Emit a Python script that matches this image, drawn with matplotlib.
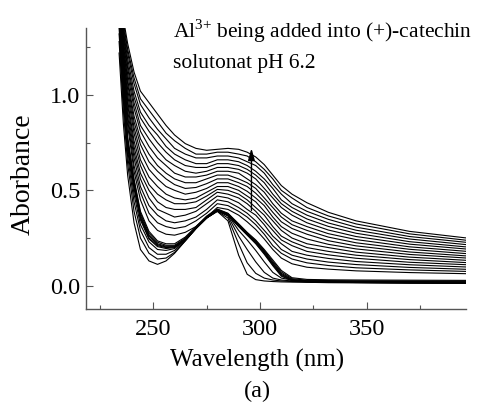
import numpy as np
import matplotlib
matplotlib.use('Agg')
import matplotlib.pyplot as plt

plt.rcParams['font.family'] = ['Liberation Serif', 'DejaVu Serif']
plt.rcParams['mathtext.fontset'] = 'custom'
plt.rcParams['mathtext.rm'] = 'Liberation Serif'

wavelength = [234, 236, 238, 241, 244, 248, 252, 256, 260, 265, 270, 275, 280,
              285, 290, 294, 298, 302, 306, 310, 315, 322, 332, 345, 370, 397]

# (+)-catechin alone
catechin = [1.22, 0.85, 0.58, 0.33, 0.19, 0.13, 0.112, 0.13, 0.17, 0.235, 0.30, 0.355, 0.39,
            0.34, 0.16, 0.06, 0.032, 0.025, 0.022, 0.02, 0.019, 0.018, 0.016, 0.015, 0.013, 0.012]

# first Al3+ additions (one row per wavelength, one column per spectrum)
low_al = [
    [1.28, 1.32, 1.35], [0.92, 0.97, 1.00], [0.64, 0.68, 0.71], [0.39, 0.44, 0.48],
    [0.25, 0.29, 0.32], [0.17, 0.20, 0.23], [0.14, 0.165, 0.19], [0.145, 0.165, 0.185],
    [0.175, 0.185, 0.195], [0.235, 0.237, 0.24], [0.30, 0.30, 0.30], [0.355, 0.355, 0.355],
    [0.39, 0.392, 0.394], [0.355, 0.365, 0.37], [0.22, 0.26, 0.29], [0.12, 0.19, 0.24],
    [0.065, 0.125, 0.185], [0.04, 0.07, 0.125], [0.03, 0.04, 0.07], [0.025, 0.03, 0.04],
    [0.022, 0.025, 0.03], [0.02, 0.022, 0.025], [0.018, 0.02, 0.022], [0.017, 0.019, 0.021],
    [0.015, 0.017, 0.019], [0.014, 0.016, 0.018],
]

# the dense bundle of spectra
mid_al = [
    [1.38, 1.39, 1.40, 1.41, 1.42, 1.43],
    [1.03, 1.04, 1.05, 1.06, 1.07, 1.08],
    [0.73, 0.74, 0.75, 0.76, 0.77, 0.78],
    [0.51, 0.52, 0.53, 0.54, 0.55, 0.56],
    [0.345, 0.355, 0.36, 0.37, 0.38, 0.39],
    [0.245, 0.25, 0.26, 0.265, 0.275, 0.285],
    [0.205, 0.21, 0.215, 0.22, 0.228, 0.235],
    [0.195, 0.20, 0.203, 0.207, 0.212, 0.22],
    [0.20, 0.203, 0.205, 0.208, 0.212, 0.22],
    [0.24, 0.242, 0.244, 0.246, 0.25, 0.255],
    [0.30, 0.30, 0.302, 0.304, 0.306, 0.31],
    [0.355, 0.357, 0.358, 0.36, 0.362, 0.365],
    [0.395, 0.396, 0.397, 0.398, 0.40, 0.402],
    [0.37, 0.372, 0.374, 0.376, 0.378, 0.38],
    [0.31, 0.312, 0.315, 0.318, 0.32, 0.325],
    [0.265, 0.268, 0.27, 0.273, 0.276, 0.28],
    [0.22, 0.224, 0.228, 0.232, 0.236, 0.24],
    [0.165, 0.17, 0.175, 0.18, 0.185, 0.19],
    [0.105, 0.11, 0.115, 0.12, 0.127, 0.135],
    [0.05, 0.055, 0.06, 0.065, 0.072, 0.08],
    [0.026, 0.028, 0.03, 0.033, 0.037, 0.042],
    [0.02, 0.022, 0.024, 0.026, 0.029, 0.033],
    [0.018, 0.02, 0.022, 0.024, 0.027, 0.031],
    [0.017, 0.019, 0.021, 0.023, 0.026, 0.03],
    [0.015, 0.017, 0.019, 0.022, 0.025, 0.029],
    [0.014, 0.016, 0.018, 0.021, 0.024, 0.028],
]

# later additions, absorbance rising step by step
high_al = [
    [1.45, 1.46, 1.47, 1.48, 1.49, 1.50, 1.51, 1.52, 1.53, 1.54, 1.55, 1.56, 1.57, 1.58, 1.59, 1.60, 1.62],
    [1.10, 1.12, 1.14, 1.16, 1.18, 1.19, 1.21, 1.23, 1.25, 1.27, 1.29, 1.31, 1.33, 1.34, 1.36, 1.38, 1.40],
    [0.84, 0.87, 0.89, 0.92, 0.95, 0.97, 1.00, 1.03, 1.06, 1.08, 1.11, 1.14, 1.16, 1.19, 1.22, 1.24, 1.27],
    [0.60, 0.63, 0.67, 0.70, 0.73, 0.76, 0.80, 0.83, 0.86, 0.89, 0.93, 0.96, 0.99, 1.02, 1.06, 1.09, 1.12],
    [0.45, 0.49, 0.52, 0.56, 0.59, 0.63, 0.66, 0.70, 0.74, 0.77, 0.81, 0.84, 0.88, 0.91, 0.95, 0.98, 1.02],
    [0.34, 0.38, 0.42, 0.46, 0.50, 0.53, 0.57, 0.61, 0.65, 0.69, 0.73, 0.77, 0.81, 0.84, 0.88, 0.92, 0.96],
    [0.29, 0.33, 0.37, 0.40, 0.44, 0.48, 0.52, 0.56, 0.60, 0.63, 0.67, 0.71, 0.75, 0.79, 0.82, 0.86, 0.90],
    [0.27, 0.31, 0.34, 0.38, 0.41, 0.45, 0.48, 0.52, 0.56, 0.59, 0.63, 0.66, 0.70, 0.73, 0.77, 0.80, 0.84],
    [0.265, 0.30, 0.33, 0.36, 0.40, 0.43, 0.46, 0.50, 0.53, 0.56, 0.59, 0.63, 0.66, 0.69, 0.72, 0.76, 0.79],
    [0.28, 0.31, 0.34, 0.37, 0.40, 0.43, 0.45, 0.48, 0.51, 0.54, 0.57, 0.60, 0.63, 0.66, 0.69, 0.72, 0.745],
    [0.31, 0.34, 0.36, 0.39, 0.41, 0.44, 0.46, 0.49, 0.515, 0.54, 0.57, 0.59, 0.62, 0.64, 0.67, 0.69, 0.72],
    [0.36, 0.38, 0.40, 0.43, 0.45, 0.47, 0.49, 0.51, 0.535, 0.56, 0.58, 0.60, 0.62, 0.64, 0.67, 0.69, 0.71],
    [0.41, 0.43, 0.45, 0.47, 0.49, 0.505, 0.52, 0.54, 0.56, 0.58, 0.60, 0.62, 0.64, 0.66, 0.68, 0.70, 0.715],
    [0.40, 0.42, 0.44, 0.46, 0.48, 0.50, 0.52, 0.54, 0.56, 0.58, 0.60, 0.62, 0.64, 0.66, 0.68, 0.70, 0.72],
    [0.37, 0.39, 0.41, 0.435, 0.46, 0.48, 0.50, 0.52, 0.54, 0.56, 0.59, 0.61, 0.63, 0.65, 0.67, 0.69, 0.715],
    [0.335, 0.36, 0.38, 0.40, 0.43, 0.45, 0.47, 0.495, 0.52, 0.54, 0.56, 0.59, 0.61, 0.63, 0.65, 0.68, 0.70],
    [0.295, 0.32, 0.34, 0.37, 0.39, 0.41, 0.44, 0.46, 0.485, 0.51, 0.53, 0.56, 0.58, 0.60, 0.63, 0.65, 0.675],
    [0.245, 0.27, 0.29, 0.32, 0.34, 0.37, 0.39, 0.42, 0.44, 0.46, 0.49, 0.51, 0.54, 0.56, 0.59, 0.61, 0.635],
    [0.19, 0.21, 0.24, 0.26, 0.29, 0.31, 0.34, 0.36, 0.385, 0.41, 0.43, 0.46, 0.48, 0.51, 0.53, 0.56, 0.58],
    [0.145, 0.17, 0.19, 0.22, 0.24, 0.26, 0.29, 0.31, 0.335, 0.36, 0.38, 0.41, 0.43, 0.45, 0.48, 0.50, 0.525],
    [0.115, 0.14, 0.16, 0.18, 0.21, 0.23, 0.25, 0.275, 0.30, 0.32, 0.34, 0.37, 0.39, 0.41, 0.43, 0.46, 0.48],
    [0.097, 0.12, 0.14, 0.16, 0.18, 0.20, 0.22, 0.245, 0.27, 0.29, 0.31, 0.33, 0.35, 0.37, 0.39, 0.41, 0.435],
    [0.087, 0.106, 0.124, 0.143, 0.162, 0.18, 0.20, 0.217, 0.236, 0.255, 0.273, 0.292, 0.311, 0.329, 0.348, 0.366, 0.385],
    [0.078, 0.094, 0.111, 0.127, 0.144, 0.16, 0.176, 0.193, 0.209, 0.225, 0.242, 0.258, 0.275, 0.291, 0.307, 0.324, 0.34],
    [0.069, 0.083, 0.096, 0.11, 0.123, 0.137, 0.15, 0.164, 0.177, 0.191, 0.204, 0.218, 0.231, 0.245, 0.258, 0.272, 0.285],
    [0.063, 0.075, 0.086, 0.098, 0.11, 0.121, 0.133, 0.145, 0.156, 0.168, 0.18, 0.192, 0.203, 0.215, 0.227, 0.238, 0.25],
]

fig = plt.figure(figsize=(4.82, 4.03), dpi=100)
ax = fig.add_axes([86 / 482, 94 / 403, 380 / 482, 281 / 403])

ax.plot(wavelength, catechin, color='black', lw=0.8)
ax.plot(wavelength, np.array(low_al), color='black', lw=0.8)
ax.plot(wavelength, np.array(mid_al), color='black', lw=0.8)
ax.plot(wavelength, np.array(high_al), color='black', lw=0.8)

# arrow showing the direction of change
ax.annotate('', xy=(296, 0.735), xytext=(296, 0.38),
            arrowprops=dict(arrowstyle='-|>,head_width=0.2,head_length=0.7',
                            color='black', lw=1.0, mutation_scale=10))

ax.set_xlim(218.5, 396.5)
ax.set_ylim(-0.122, 1.351)
ax.set_xticks([250, 300, 350])
ax.set_xticks([225, 275, 325, 375], minor=True)
ax.set_yticks([0.0, 0.5, 1.0])
ax.set_yticklabels(['0.0', '0.5', '1.0'])
ax.set_yticks([0.25, 0.75, 1.25], minor=True)

for s in ['top', 'right']:
    ax.spines[s].set_visible(False)
for s in ['left', 'bottom']:
    ax.spines[s].set_color('#555555')
    ax.spines[s].set_linewidth(1.0)

ax.tick_params(which='both', direction='in', colors='#555555', labelcolor='black',
               labelsize=17.5)
ax.tick_params(which='major', length=5, width=0.8)
ax.tick_params(which='minor', length=3, width=0.8)
ax.tick_params(axis='x', pad=7)
ax.tick_params(axis='y', pad=4)

# axis titles, placed like in the original figure
fig.text(257 / 482, 1 - 367 / 403, 'Wavelength (nm)', fontsize=18,
         va='baseline', ha='center')
fig.text(23 / 482, 1 - 174 / 403, 'Aborbance', fontsize=20,
         va='center', ha='center', rotation=90)

fig.text(173 / 482, 1 - 38 / 403, 'Al$^{3{+}}$ being added into (+)-catechin',
         fontsize=15.5, va='baseline', ha='left')
fig.text(173 / 482, 1 - 68 / 403, 'solutonat pH 6.2',
         fontsize=15.5, va='baseline', ha='left')
fig.text(257 / 482, 1 - 397 / 403, '(a)', fontsize=17.5, va='baseline', ha='center')

fig.savefig('out.png', dpi=100)
